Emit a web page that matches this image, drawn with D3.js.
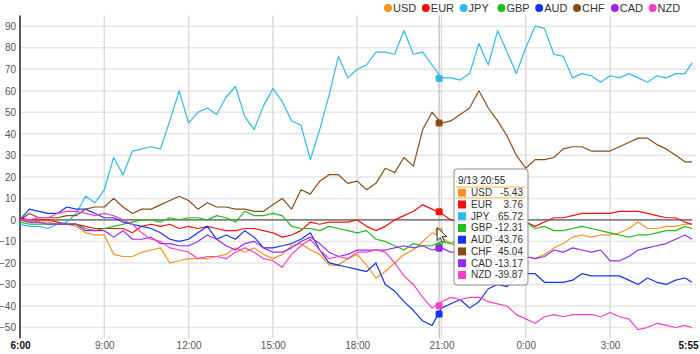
<!DOCTYPE html>
<html><head><meta charset="utf-8">
<script src="https://cdn.jsdelivr.net/npm/d3@7/dist/d3.min.js"></script>
<style>
html,body{margin:0;padding:0;background:#fff;}
svg{display:block;font-family:Arial,"Liberation Sans",sans-serif;}
</style></head>
<body><svg id="c" width="700" height="354"></svg>
<script>
const times = [
"9/13 06:00","9/13 06:20","9/13 06:40","9/13 07:00","9/13 07:20","9/13 07:40","9/13 08:00","9/13 08:20","9/13 08:40",
"9/13 09:00","9/13 09:20","9/13 09:40","9/13 10:00","9/13 10:20","9/13 10:40","9/13 11:00","9/13 11:20","9/13 11:40",
"9/13 12:00","9/13 12:20","9/13 12:40","9/13 13:00","9/13 13:20","9/13 13:40","9/13 14:00","9/13 14:20","9/13 14:40",
"9/13 15:00","9/13 15:20","9/13 15:40","9/13 16:00","9/13 16:20","9/13 16:40","9/13 17:00","9/13 17:20","9/13 17:40",
"9/13 18:00","9/13 18:20","9/13 18:40","9/13 19:00","9/13 19:20","9/13 19:40","9/13 20:00","9/13 20:20","9/13 20:40",
"9/13 21:00","9/13 21:20","9/13 21:40","9/13 22:00","9/13 22:20","9/13 22:40","9/13 23:00","9/13 23:20","9/13 23:40",
"9/14 00:00","9/14 00:20","9/14 00:40","9/14 01:00","9/14 01:20","9/14 01:40","9/14 02:00","9/14 02:20","9/14 02:40",
"9/14 03:00","9/14 03:20","9/14 03:40","9/14 04:00","9/14 04:20","9/14 04:40","9/14 05:00","9/14 05:20","9/14 05:40",
"9/14 05:55"];

const currencies = ["USD","EUR","JPY","GBP","AUD","CHF","CAD","NZD"];
const colors = ["#f5941d","#f50f0f","#2fb9ea","#1ebd1e","#1432f0","#8a4b17","#9a27f0","#f53fc8"];

const USD = [0,-1,-1,-1,-2,-2,-3,-6,-7,-7,-16,-17,-17,-15,-14,-13,-20,-19,-18,-18,-18,-17,-16,-13,-15,-13,-16,-18,-16,-12,-11,-14,-16,-21,-21,-18,-16,-21,-27,-24,-20,-16,-14,-10,-6,-8,-11,-12,-13,-13,-10,-12,-15,-17,-17,-18,-16,-13,-11,-8,-7,-8,-7,-7,-6,-4,-1,-4,-4,-3,-3,-2,-2];
const EUR = [1,0,0,0,-1,-2,-2,-3,-4,-4,-4,-4,-6,-3,-2,-3,-2,-4,-3,-4,-3,-4,-5,-5,-4,-4,-5,-6,-8,-7,-5,-1,-2,-1,-1,-1,0,-3,-5,-3,0,2,4,7,5,3,0,-1,0,1,0,-1,0,1,-1,-3,-1,1,1,2,3,3,3,3,4,4,4,3,2,1,1,-1,-2];
const JPY = [-2,-3,-3,-4,-2,-1,3,11,8,14,29,21,32,33,34,33,46,60,45,50,52,49,57,62,48,42,53,61,55,46,44,28,42,58,76,66,70,72,78,78,77,88,77,78,72,66,66,65,68,82,72,88,78,68,80,90,89,77,76,66,68,67,64,67,66,68,66,64,67,66,68,68,73];
const GBP = [-1,-2,-2,-2,-2,-2,-2,-4,-5,-4,-3,-2,-1,0,0,-1,1,0,1,1,0,2,1,-1,4,2,2,3,2,-3,-4,-4,-5,-3,-4,-5,-6,-5,-9,-10,-12,-14,-11,-12,-12,-10,-11,-9,-6,-3,0,2,4,5,-1,-4,-3,-5,-5,-4,-3,-4,-5,-6,-7,-8,-7,-7,-6,-5,-5,-3,-4];
const AUD = [0,5,4,3,3,6,5,5,3,1,1,-1,-2,-3,-4,-6,-9,-10,-9,-6,-3,-9,-7,-9,-5,-8,-13,-13,-12,-11,-9,-6,-14,-20,-21,-22,-23,-24,-20,-30,-33,-38,-42,-47,-49,-41,-39,-37,-41,-38,-32,-30,-31,-27,-25,-25,-29,-29,-29,-28,-25,-26,-26,-26,-26,-28,-30,-27,-29,-30,-28,-27,-29];
const CHF = [0,3,1,1,1,2,2,5,6,6,10,6,3,5,5,7,9,11,9,5,8,6,6,5,5,4,4,7,10,5,14,12,18,21,21,17,18,14,17,24,22,29,25,42,50,45,46,49,52,60,52,46,39,30,24,28,28,29,33,34,34,32,32,32,34,36,38,38,35,33,30,27,27];
const CAD = [0,-1,-1,-2,-2,-2,-2,-5,-5,-5,-8,-5,-9,-9,-8,-11,-11,-12,-12,-10,-7,-9,-12,-14,-11,-10,-13,-15,-15,-13,-10,-8,-11,-15,-17,-16,-14,-14,-14,-14,-13,-12,-13,-12,-14,-13,-15,-15,-16,-16,-15,-17,-17,-17,-17,-18,-17,-14,-15,-13,-14,-15,-14,-19,-19,-17,-14,-13,-12,-11,-9,-7,-9];
const NZD = [0,0,1,1,3,4,4,3,2,3,2,0,-2,-6,-9,-10,-13,-14,-15,-18,-17,-17,-18,-15,-13,-15,-18,-19,-22,-16,-12,-9,-14,-18,-17,-18,-15,-15,-14,-15,-20,-26,-30,-36,-41,-38,-36,-37,-36,-36,-38,-39,-40,-44,-46,-48,-45,-44,-45,-44,-44,-44,-45,-43,-45,-46,-51,-50,-48,-49,-50,-49,-50];

const yTicks = [90,80,70,60,50,40,30,20,10,0,-10,-20,-30,-40,-50];
const xTickTimes = ["9/13 06:00","9/13 09:00","9/13 12:00","9/13 15:00","9/13 18:00","9/13 21:00","9/14 00:00","9/14 03:00","9/14 05:55"];
const xTickLabels = ["6:00","9:00","12:00","15:00","18:00","21:00","0:00","3:00","5:55"];

const tipTime = "9/13 20:55";
const tipTitle = "9/13 20:55";
const tipValues = [-5.43, 3.76, 65.72, -12.31, -43.76, 45.04, -13.17, -39.87];

const seriesValues = [USD, EUR, JPY, GBP, AUD, CHF, CAD, NZD];

const parse = d3.timeParse("%m/%d %H:%M");
const dates = times.map(parse);

const svg = d3.select("#c");
const L = 20, R = 692, T = 15.5, B = 338.25;
const x = d3.scaleTime().domain([dates[0], dates[dates.length-1]]).range([L, R]);
const y = d3.scaleLinear().domain([-55, 95]).range([B, T]);

// horizontal gridlines
svg.append("g").selectAll("line").data(yTicks).join("line")
  .attr("x1", L).attr("x2", 696)
  .attr("y1", d => y(d)).attr("y2", d => y(d))
  .attr("stroke", "#e6e6e6").attr("stroke-width", 1.5);

// vertical gridlines
svg.append("g").selectAll("line").data(xTickTimes.slice(1, -1).map(parse)).join("line")
  .attr("x1", d => x(d)).attr("x2", d => x(d))
  .attr("y1", T).attr("y2", B)
  .attr("stroke", "#dcdcdc").attr("stroke-width", 1.5);

// y axis labels
const yAxis = d3.axisLeft(y).tickValues(yTicks).tickSize(0).tickPadding(4);
const gy = svg.append("g").attr("transform", `translate(${L},0)`).call(yAxis);
gy.select(".domain").remove();
gy.selectAll("text").attr("font-size", 10).attr("fill", "#555").attr("font-family", "Arial, 'Liberation Sans', sans-serif");

// x axis labels
const xAxis = d3.axisBottom(x).tickValues(xTickTimes.map(parse)).tickSize(0).tickPadding(4)
  .tickFormat((d, i) => xTickLabels[i]);
const gx = svg.append("g").attr("transform", `translate(0,${B})`).call(xAxis);
gx.select(".domain").remove();
gx.selectAll("text").attr("font-size", 10).attr("font-family", "Arial, 'Liberation Sans', sans-serif")
  .attr("font-weight", (d, i) => (i === 0 || i === xTickLabels.length - 1) ? "bold" : "normal")
  .attr("fill", (d, i) => (i === 0 || i === xTickLabels.length - 1) ? "#111" : "#555")
  .attr("text-anchor", (d, i) => i === xTickLabels.length - 1 ? "end" : "middle")
  .attr("dx", (d, i) => i === xTickLabels.length - 1 ? 6 : 0);

// hover line
const tipDate = parse(tipTime);
svg.append("line").attr("x1", x(tipDate)).attr("x2", x(tipDate)).attr("y1", T).attr("y2", B)
  .attr("stroke", "#c8c8c8").attr("stroke-width", 1.5);

// zero line
svg.append("line").attr("x1", L).attr("x2", R).attr("y1", y(0)).attr("y2", y(0))
  .attr("stroke", "#333").attr("stroke-width", 1);

// y axis line
svg.append("line").attr("x1", L).attr("x2", L).attr("y1", T).attr("y2", B)
  .attr("stroke", "#222").attr("stroke-width", 1.5);

// series lines
const line = d3.line().x((d, i) => x(dates[i])).y(d => y(d));
svg.append("g").selectAll("path").data(seriesValues).join("path")
  .attr("d", d => line(d)).attr("fill", "none")
  .attr("stroke", (d, i) => colors[i]).attr("stroke-width", 1.2)
  .attr("stroke-linejoin", "round");

// hover markers
svg.append("g").selectAll("rect").data(tipValues).join("rect")
  .attr("x", x(tipDate) - 3.5).attr("y", d => y(d) - 3.5)
  .attr("width", 7).attr("height", 7).attr("rx", 1.5)
  .attr("fill", (d, i) => colors[i]);

// mouse cursor
svg.append("path").attr("transform", `translate(${x(tipDate) - 2},${y(tipValues[0]) - 4})`)
  .attr("d", "M0,0 L0,13 L3,10 L5.5,15 L7.5,14 L5,9 L9.5,9 Z")
  .attr("fill", "#fff").attr("stroke", "#000").attr("stroke-width", 0.8);

// tooltip
const tip = svg.append("g").attr("transform", "translate(454,169)");
tip.append("rect").attr("width", 74).attr("height", 116).attr("rx", 3)
  .attr("fill", "#fff").attr("fill-opacity", 0.88).attr("stroke", "#8a8a8a").attr("stroke-width", 1);
tip.append("text").attr("x", 4).attr("y", 14.5).attr("font-size", 10).attr("fill", "#222").text(tipTitle);
tip.append("line").attr("x1", 2).attr("x2", 71).attr("y1", 18).attr("y2", 18).attr("stroke", "#f5b04a").attr("stroke-width", 1);
tip.append("line").attr("x1", 2).attr("x2", 71).attr("y1", 29).attr("y2", 29).attr("stroke", "#f5b04a").attr("stroke-width", 1);
const rows = tip.selectAll("g.row").data(currencies).join("g").attr("class", "row")
  .attr("transform", (d, i) => `translate(0,${23.7 + i * 11.75})`);
rows.append("rect").attr("x", 4).attr("y", -4).attr("width", 8).attr("height", 8)
  .attr("fill", (d, i) => colors[i]);
rows.append("text").attr("x", 17).attr("y", 3.5).attr("font-size", 10).attr("fill", "#333").text(d => d);
rows.append("text").attr("x", 69).attr("y", 3.5).attr("font-size", 10).attr("fill", "#333")
  .attr("text-anchor", "end").text((d, i) => tipValues[i].toFixed(2));

// legend
const lg = svg.append("g").selectAll("g").data(currencies).join("g")
  .attr("transform", (d, i) => `translate(${388 + i * 37.8},8)`);
lg.append("circle").attr("r", 4).attr("fill", (d, i) => colors[i]);
lg.append("text").attr("x", 5).attr("y", 4).attr("font-size", 11).attr("fill", "#333").text(d => d);
</script></body></html>
